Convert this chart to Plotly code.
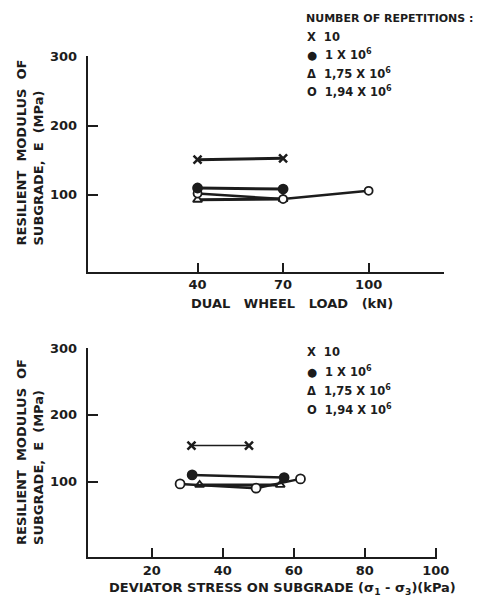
import plotly.graph_objects as go

W, H = 481, 599
INK = "#1c1c1c"
FONT = "DejaVu Sans"

# ---------------- data ----------------
legend_labels = ["10", "1 X 10<sup>6</sup>", "1,75 X 10<sup>6</sup>", "1,94 X 10<sup>6</sup>"]
legend_glyphs = ["X", "●", "Δ", "O"]

# Top chart: dual wheel load (kN) vs resilient modulus (MPa)
load_x10 = [40, 70]
modA_x10 = [151, 153]
load_1e6 = [40, 70]
modA_1e6 = [110, 108.5]
load_175e6 = [40, 70]
modA_175e6 = [93, 94]
load_194e6 = [40, 70, 100]
modA_194e6 = [102, 94, 106]

# Bottom chart: deviator stress (kPa) vs resilient modulus (MPa)
stress_x10 = [31.2, 47.4]
modB_x10 = [154, 154]
stress_1e6 = [31.4, 57.3]
modB_1e6 = [110, 106]
stress_175e6 = [33.5, 56.2]
modB_175e6 = [95, 95]
stress_194e6 = [28, 49.4, 61.9]
modB_194e6 = [96.5, 90, 104]

top_xticks = [40, 70, 100, 126]
top_xtext = ["40", "70", "100", " "]
bot_xticks = [20, 40, 60, 80, 100]
y_ticks = [100, 200, 300]

# ---------------- figure ----------------
fig = go.Figure()

def px_x(p):
    return p / W

def px_y(p):
    return 1 - p / H

def add_series(x, y, xa, ya, symbol, fill, lw, size=9, mlw=1.8):
    fig.add_trace(go.Scatter(
        x=x, y=y, xaxis=xa, yaxis=ya, mode="lines+markers",
        line=dict(color=INK, width=lw),
        marker=dict(symbol=symbol, size=size, color=fill,
                    line=dict(color=INK, width=mlw)),
        showlegend=False, hoverinfo="skip"))

# top
add_series(load_175e6, modA_175e6, "x", "y", "triangle-up", "white", 3, 8)
add_series(load_194e6, modA_194e6, "x", "y", "circle", "white", 2.5, 8)
add_series(load_1e6, modA_1e6, "x", "y", "circle", INK, 3, 9)
add_series(load_x10, modA_x10, "x", "y", "x-thin", INK, 3, 8, 2.5)
# bottom
add_series(stress_175e6, modB_175e6, "x2", "y2", "triangle-up", "white", 3, 8)
add_series(stress_194e6, modB_194e6, "x2", "y2", "circle", "white", 2.5, 9)
add_series(stress_1e6, modB_1e6, "x2", "y2", "circle", INK, 2.5, 9)
add_series(stress_x10, modB_x10, "x2", "y2", "x-thin", INK, 1.6, 8, 2.5)

axis_common = dict(showline=True, linecolor=INK, linewidth=2, showgrid=False,
                   zeroline=False, ticks="inside", tickcolor=INK, tickwidth=2,
                   tickfont=dict(family=FONT, size=13, color=INK, weight="bold"))

fig.update_layout(
    width=W, height=H, margin=dict(l=0, r=0, t=0, b=0),
    paper_bgcolor="white", plot_bgcolor="white",
    font=dict(family=FONT, color=INK),
    xaxis=dict(domain=[px_x(90), px_x(455)], range=[1.5, 126.3], anchor="y",
               tickvals=top_xticks, ticktext=top_xtext, ticklen=9,
               ticklabelstandoff=0, **axis_common),
    yaxis=dict(domain=[px_y(268), px_y(50)], range=[-11.4, 300.5], anchor="x",
               tickvals=y_ticks, ticklen=10, ticklabelstandoff=6, **axis_common),
    xaxis2=dict(domain=[px_x(90), px_x(448)], range=[2, 100.3], anchor="y2",
                tickvals=bot_xticks, ticklen=9, ticklabelstandoff=0, **axis_common),
    yaxis2=dict(domain=[px_y(557), px_y(345)], range=[-14, 300.5], anchor="x2",
                tickvals=y_ticks, ticklen=10, ticklabelstandoff=6, **axis_common),
)

ann = []
def text(x, y, s, size=12, xanchor="center", angle=0, align="center"):
    ann.append(dict(x=px_x(x), y=px_y(y), xref="paper", yref="paper", text=s,
                    showarrow=False, xanchor=xanchor, yanchor="middle",
                    textangle=angle, align=align,
                    font=dict(family=FONT, size=size, color=INK, weight="bold")))

# axis titles
ytitle = "RESILIENT  MODULUS  OF<br>SUBGRADE,  E  (MPa)"
text(31, 147, ytitle, 13, angle=-90, align="left")
text(31, 450, ytitle, 13, angle=-90, align="left")
text(299, 300, "DUAL   WHEEL   LOAD   (kN)", 13)
text(290, 588, "DEVIATOR STRESS ON SUBGRADE (σ<sub>1</sub> - σ<sub>3</sub>)(kPa)", 13)

# legends
text(312, 12, "NUMBER OF REPETITIONS :", 11, xanchor="left")
for i, (g, lab) in enumerate(zip(legend_glyphs, legend_labels)):
    text(313, 30 + 18.5 * i, g + "  " + lab, 11.5, xanchor="left")
    text(313, 349 + 19.5 * i, g + "  " + lab, 11.5, xanchor="left")

fig.update_layout(annotations=ann)
fig.write_html("out.html")
